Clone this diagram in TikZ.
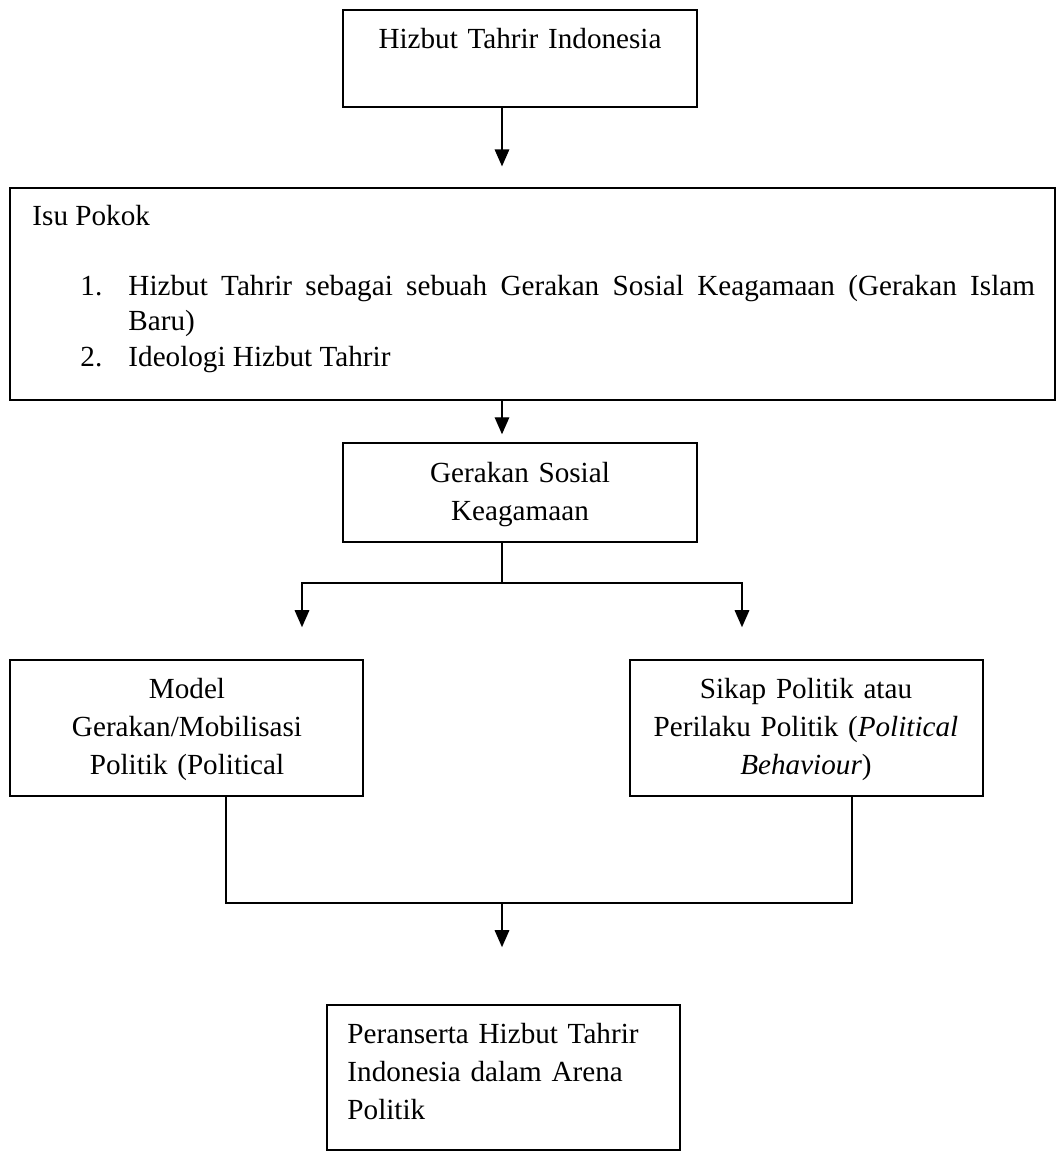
\documentclass[tikz,border=0pt]{standalone}
\usepackage{fontspec}
\setmainfont{Liberation Serif}
\usetikzlibrary{arrows.meta,fit}
\begin{document}
\begin{tikzpicture}[x=0.4115pt,y=-0.4115pt,
  box/.style={draw,line width=0.6pt,rectangle,inner sep=0pt},
  txt/.style={inner sep=0pt,font=\fontsize{12}{15.8}\selectfont},
  ctxt/.style={txt,text width=160pt,align=center,anchor=base},
  conn/.style={line width=0.6pt},
  arr/.style={conn,-{Triangle[width=6pt,length=7pt]}}]
\useasboundingbox (0,0) rectangle (1056,1152);
\fill[white] (0,0) rectangle (1056,1152);
% boxes
\node[box,fit={(343,10) (697,107)}] (b1) {};
\node[box,fit={(10,188) (1055,400)}] (b2) {};
\node[box,fit={(343,443) (697,542)}] (b3) {};
\node[box,fit={(10,660) (363,796)}] (b4) {};
\node[box,fit={(630,660) (983,796)}] (b5) {};
\node[box,fit={(327,1005) (680,1150)}] (b6) {};
% texts
\node[ctxt] (t1) at (520,48) {Hizbut Tahrir Indonesia};
\node[txt,anchor=base west] (t2) at (32,225) {Isu Pokok};
\node[txt,anchor=base west] (n1) at (80,295) {1.};
\node[txt,anchor=base west,text width=373pt,align=justify,font=\fontsize{12}{14.6}\selectfont] (i1) at (128,295)
  {Hizbut Tahrir sebagai sebuah Gerakan Sosial Keagamaan (Gerakan Islam\linebreak Baru)};
\node[txt,anchor=base west] (n2) at (80,366) {2.};
\node[txt,anchor=base west] (i2) at (128,366) {Ideologi Hizbut Tahrir};
\node[ctxt] (t3) at (520,482) {Gerakan Sosial\\Keagamaan};
\node[ctxt] (t4) at (187,698) {Model\\Gerakan/Mobilisasi\\Politik (Political};
\node[ctxt] (t5) at (806,698) {Sikap Politik atau\\Perilaku Politik (\textit{Political}\\\textit{Behaviour})};
\node[txt,anchor=base west,text width=160pt,align=left] (t6) at (347,1043) {Peranserta Hizbut Tahrir\\Indonesia dalam Arena\\Politik};
% connector coordinates
\coordinate (c) at (502,0);
\coordinate (jl) at (302,583);
\coordinate (jr) at (742,583);
\coordinate (bl) at (226,903);
\coordinate (br) at (852,903);
% connectors
\draw[arr,shorten >=8.6pt] (b1.south -| c) -- (b2.north -| c);
\draw[arr,shorten >=3.3pt] (b2.south -| c) -- (b3.north -| c);
\draw[conn] (b3.south -| c) -- (c |- jl);
\draw[arr,shorten >=13.2pt] (c |- jl) -| (b4.north -| jl);
\draw[arr,shorten >=13.2pt] (c |- jr) -| (b5.north -| jr);
\draw[conn] (b4.south -| bl) -- (bl) -- (br) -- (b5.south -| br);
\draw[arr,shorten >=23.5pt] (c |- bl) -- (b6.north -| c);
\end{tikzpicture}
\end{document}
